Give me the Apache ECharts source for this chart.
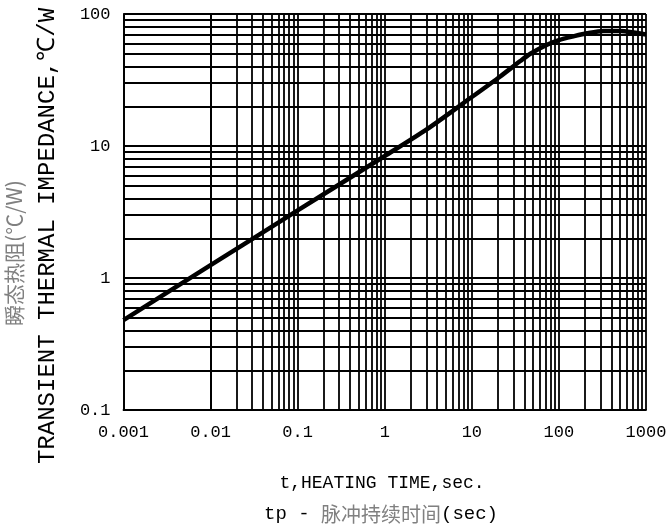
<!DOCTYPE html>
<html><head><meta charset="utf-8">
<script src="https://cdn.jsdelivr.net/npm/echarts@6/dist/echarts.min.js"></script>
<style>html,body{margin:0;padding:0;background:#fff}#c{width:670px;height:529px}</style>
</head><body><div id="c"></div>
<script>
// Heating time (s) and transient thermal impedance (°C/W)
const timeSec   = [0.001, 0.01, 0.1, 1, 3, 10, 21, 36, 47, 73, 100, 150, 210, 325, 510, 1000];
const impedance = [0.48, 1.25, 3.25, 8.4, 13.3, 23.5, 33.5, 44, 50, 58.5, 63.5, 68, 71.5, 74.5, 74.5, 70];
const xTickLabels = ['0.001', '0.01', '0.1', '1', '10', '100', '1000'];
const yTickLabels = ['0.1', '1', '10', '100'];
const xDecades = [0.001, 0.01, 0.1, 1, 10, 100];
const yDecades = [0.1, 1, 10];
const minorMultipliers = [2, 3, 4, 5, 6, 7, 8, 9];

const minorOf = (decades) => {
  const out = [];
  decades.forEach(d => minorMultipliers.forEach(k => out.push(parseFloat((d * k).toPrecision(3)))));
  return out;
};
const xMinor = minorOf(xDecades);
const yMinor = minorOf(yDecades);

const chart = echarts.init(document.getElementById('c'), null, {renderer: 'canvas'});
const gridLine = {color: '#000', width: 1.8, type: 'solid'};
const tickFont = {fontFamily: 'Liberation Mono', fontSize: 17, color: '#000'};

chart.setOption({
  backgroundColor: '#fff',
  animation: false,
  grid: {left: 123.5, right: 24, top: 14, bottom: 119},
  xAxis: {
    type: 'log', logBase: 10, min: 0.001, max: 1000, splitNumber: 6,
    axisLine: {show: true, lineStyle: {color: '#000', width: 1.8}},
    axisTick: {show: false},
    splitLine: {show: true, lineStyle: gridLine},
    axisLabel: Object.assign({margin: 14, formatter: v => xTickLabels[Math.round(Math.log10(v)) + 3]}, tickFont)
  },
  yAxis: {
    type: 'log', logBase: 10, min: 0.1, max: 100, splitNumber: 3,
    axisLine: {show: true, lineStyle: {color: '#000', width: 1.8}},
    axisTick: {show: false},
    splitLine: {show: true, lineStyle: gridLine},
    axisLabel: Object.assign({margin: 13, formatter: v => yTickLabels[Math.round(Math.log10(v)) + 1]}, tickFont)
  },
  series: [
    {
      type: 'line', data: [], z: 1, silent: true,
      markLine: {
        silent: true, symbol: ['none', 'none'], animation: false,
        label: {show: false},
        lineStyle: gridLine,
        emphasis: {disabled: true},
        data: xMinor.map(v => ({xAxis: v})).concat(yMinor.map(v => ({yAxis: v})))
      }
    },
    {
      type: 'line', z: 5, smooth: 0.25, showSymbol: false, symbol: 'none',
      lineStyle: {color: '#000', width: 4.5},
      data: timeSec.map((t, i) => [t, impedance[i]])
    }
  ],
  graphic: [
    {type: 'text', x: 14, y: 253, rotation: Math.PI / 2,
     style: {text: '瞬态热阻(℃/W)', fontFamily: 'Noto Sans CJK SC', fontSize: 21, fill: '#808080', align: 'center', verticalAlign: 'middle'}},
    {type: 'text', x: 48, y: 236, rotation: Math.PI / 2,
     style: {text: 'TRANSIENT THERMAL IMPEDANCE,℃/W', fontFamily: 'Liberation Mono', fontSize: 24, fill: '#000', align: 'center', verticalAlign: 'middle'}},
    {type: 'text', x: 382, y: 483,
     style: {text: 't,HEATING TIME,sec.', fontFamily: 'Liberation Mono', fontSize: 18, fill: '#000', align: 'center', verticalAlign: 'middle'}},
    {type: 'text', x: 381, y: 514,
     style: {text: '{a|tp - }{b|脉冲持续时间}{a|(sec)}', align: 'center', verticalAlign: 'middle',
       rich: {
         a: {fontFamily: 'Liberation Mono', fontSize: 19, fill: '#000', color: '#000'},
         b: {fontFamily: 'Noto Sans CJK SC', fontSize: 20, fill: '#808080', color: '#808080'}
       }}}
  ]
});
</script></body></html>
